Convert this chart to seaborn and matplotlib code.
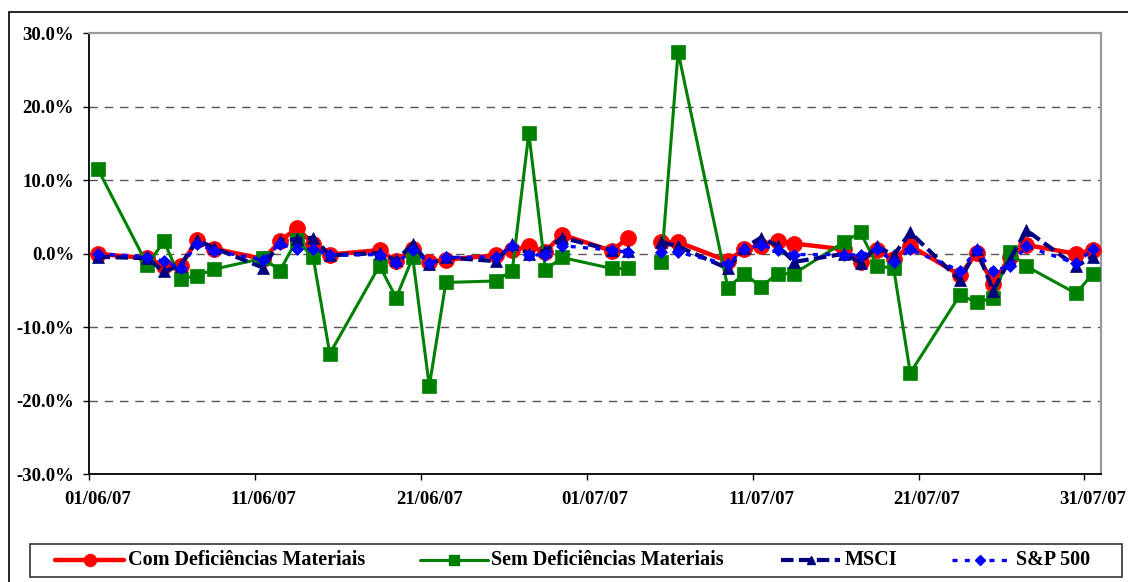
import pandas as pd
import numpy as np
import matplotlib
matplotlib.use("Agg")
import matplotlib.pyplot as plt
import matplotlib.dates as mdates
from matplotlib.lines import Line2D
from matplotlib.patches import Rectangle
from matplotlib.ticker import FixedLocator, NullFormatter, FuncFormatter
import seaborn as sns

# trading days (04/07 is a holiday -> break in the lines)
dates = ["01/06/07", "04/06/07", "05/06/07", "06/06/07", "07/06/07", "08/06/07",
         "11/06/07", "12/06/07", "13/06/07", "14/06/07", "15/06/07",
         "18/06/07", "19/06/07", "20/06/07", "21/06/07", "22/06/07",
         "25/06/07", "26/06/07", "27/06/07", "28/06/07", "29/06/07",
         "02/07/07", "03/07/07", "04/07/07", "05/07/07", "06/07/07",
         "09/07/07", "10/07/07", "11/07/07", "12/07/07", "13/07/07",
         "16/07/07", "17/07/07", "18/07/07", "19/07/07", "20/07/07",
         "23/07/07", "24/07/07", "25/07/07", "26/07/07", "27/07/07",
         "30/07/07", "31/07/07"]

com_def = [0.0, -0.6, -1.6, -1.7, 1.9, 0.7,
           -0.7, 1.7, 3.5, 1.4, -0.1,
           0.5, -1.0, 0.6, -1.1, -0.8,
           -0.2, 0.5, 1.0, 0.3, 2.6,
           0.4, 2.2, np.nan, 1.6, 1.6,
           -1.0, 0.7, 1.1, 1.8, 1.4,
           0.6, -1.1, 0.5, -0.7, 1.1,
           -2.9, 0.1, -4.1, -0.4, 1.2,
           0.0, 0.5]

sem_def = [11.6, -1.5, 1.7, -3.4, -3.0, -2.1,
           -0.6, -2.3, 1.9, -0.5, -13.6,
           -1.6, -6.0, -0.5, -18.0, -3.9,
           -3.7, -2.3, 16.4, -2.2, -0.5,
           -2.0, -2.0, np.nan, -1.1, 27.5,
           -4.6, -2.7, -4.5, -2.7, -2.7,
           1.6, 2.9, -1.6, -2.0, -16.2,
           -5.6, -6.6, -6.0, 0.2, -1.7,
           -5.4, -2.7]

msci = [-0.4, -0.6, -2.4, -1.6, 1.9, 0.8,
        -1.9, 1.8, 2.0, 2.2, -0.2,
        0.1, -0.9, 1.3, -1.4, -0.5,
        -1.0, 1.3, 0.0, 0.4, 2.2,
        0.5, 0.4, np.nan, 1.6, 1.0,
        -2.0, 0.8, 2.2, 1.1, -1.1,
        0.0, -1.2, 1.0, -0.2, 2.9,
        -3.6, 0.6, -5.0, -0.8, 3.2,
        -1.7, -0.4]

sp500 = [0.0, -0.4, -1.0, -1.9, 1.4, 0.4,
         -0.8, 1.4, 0.7, 0.7, -0.2,
         -0.1, -1.3, 0.5, -1.2, -0.5,
         -0.4, 1.0, -0.2, -0.1, 1.1,
         0.5, 0.2, np.nan, 0.3, 0.2,
         -1.4, 0.6, 1.2, 0.5, -0.1,
         -0.1, -0.2, 0.6, -1.1, 0.6,
         -2.3, 0.5, -2.4, -1.6, 1.0,
         -1.3, 0.6]

series_names = ["Com Deficiências Materiais", "Sem Deficiências Materiais", "MSCI", "S&P 500"]
tick_dates = ["01/06/07", "11/06/07", "21/06/07", "01/07/07", "11/07/07", "21/07/07", "31/07/07"]
y_ticks = [-30, -20, -10, 0, 10, 20, 30]

W, H = 1128, 582


def fx(px):
    return px / W


def fy(py):
    return 1 - py / H


def main():
    sns.set_theme(style="white")
    plt.rcParams['font.family'] = ['Liberation Serif', 'DejaVu Serif']
    plt.rcParams['font.weight'] = 'bold'

    x = pd.to_datetime(dates, format="%d/%m/%y") + pd.Timedelta(hours=12)
    seg = (x > pd.Timestamp("2007-07-04")).astype(int)
    frames = []
    for name, vals in zip(series_names, [com_def, sem_def, msci, sp500]):
        frames.append(pd.DataFrame({"data": x, "valor": vals, "serie": name, "seg": seg}))
    df = pd.concat(frames).dropna()

    styles = {
        "Com Deficiências Materiais": dict(color="#FF0000", marker="o", ms=11.5, lw=3.2, ls="-"),
        "Sem Deficiências Materiais": dict(color="#008000", marker="s", ms=10.5, lw=2.2, ls="-"),
        "MSCI": dict(color="#000080", marker="^", ms=8.5, lw=3.0, ls=(0, (3, 1.3))),
        "S&P 500": dict(color="#0000FF", marker="D", ms=6.5, lw=2.4, ls=(0, (1.5, 2.2))),
    }

    fig = plt.figure(figsize=(W / 100, H / 100), dpi=100)
    ax = fig.add_axes([fx(89.3), fy(474.3), fx(1101) - fx(89.3), fy(33.3) - fy(474.3)])

    for z, name in enumerate(series_names):
        st = styles[name]
        sub = df[df["serie"] == name]
        sns.lineplot(data=sub, x="data", y="valor", units="seg", estimator=None,
                     color=st["color"], marker=st["marker"], markersize=st["ms"],
                     linewidth=st["lw"], linestyle=st["ls"],
                     markeredgecolor=st["color"], markeredgewidth=0.5,
                     zorder=3 + z, ax=ax, legend=False)

    # gridlines
    for yv in [-20, -10, 0, 10, 20]:
        ax.axhline(yv, color="#555555", lw=1, ls=(0, (6, 5)), zorder=1)

    ax.set_ylim(-30, 30)
    ax.set_yticks(y_ticks)
    ax.yaxis.set_major_formatter(FuncFormatter(lambda v, p: f"{v:.1f}%"))
    ax.set_xlim(pd.Timestamp("2007-06-01"), pd.Timestamp("2007-08-01"))

    td = pd.to_datetime(tick_dates, format="%d/%m/%y")
    ax.xaxis.set_major_locator(FixedLocator(mdates.date2num(td)))
    ax.xaxis.set_major_formatter(NullFormatter())
    ax.xaxis.set_minor_locator(FixedLocator(mdates.date2num(td + pd.Timedelta(hours=12))))
    ax.xaxis.set_minor_formatter(FuncFormatter(lambda v, p: mdates.num2date(v).strftime("%d/%m/%y")))

    ax.set_xlabel("")
    ax.set_ylabel("")
    ax.tick_params(axis="y", which="major", left=True, direction="out", length=4, width=1,
                   color="black", pad=7, labelsize=13.5)
    ax.tick_params(axis="x", which="major", bottom=True, direction="out", length=4, width=1,
                   color="black")
    ax.tick_params(axis="x", which="minor", bottom=True, length=0, pad=12, labelsize=13.5)
    for lab in ax.get_yticklabels() + ax.get_xticklabels(minor=True):
        lab.set_fontweight("bold")
        lab.set_color("black")

    for s in ["left", "bottom"]:
        ax.spines[s].set_color("black")
        ax.spines[s].set_linewidth(1.3)
    for s in ["top", "right"]:
        ax.spines[s].set_color("#9a9a9a")
        ax.spines[s].set_linewidth(1.6)

    # outer chart border
    fig.add_artist(Rectangle((fx(9), fy(590)), fx(1130) - fx(9), fy(12) - fy(590),
                             transform=fig.transFigure, fill=False, ec="black", lw=1.2))
    # legend box
    fig.add_artist(Rectangle((fx(30), fy(577)), fx(1122) - fx(30), fy(544) - fy(577),
                             transform=fig.transFigure, fill=False, ec="#333333", lw=1.2))

    leg_pos = {
        "Com Deficiências Materiais": (55, 124, 128),
        "Sem Deficiências Materiais": (420, 488, 491),
        "MSCI": (781, 840, 845),
        "S&P 500": (952, 1008, 1016),
    }
    ly = 560
    for name in series_names:
        st = styles[name]
        x0, x1, tx = leg_pos[name]
        fig.add_artist(Line2D([fx(x0), fx(x1)], [fy(ly), fy(ly)], transform=fig.transFigure,
                              color=st["color"], lw=st["lw"], ls=st["ls"]))
        fig.add_artist(Line2D([fx((x0 + x1) / 2)], [fy(ly)], transform=fig.transFigure,
                              color=st["color"], marker=st["marker"], ms=st["ms"] * 0.75,
                              mec=st["color"], ls="none"))
        fig.text(fx(tx), fy(ly), name, ha="left", va="center", fontsize=14.5,
                 fontweight="bold", color="black")

    fig.savefig("out.png", dpi=100)
    plt.close(fig)


if __name__ == "__main__":
    main()
